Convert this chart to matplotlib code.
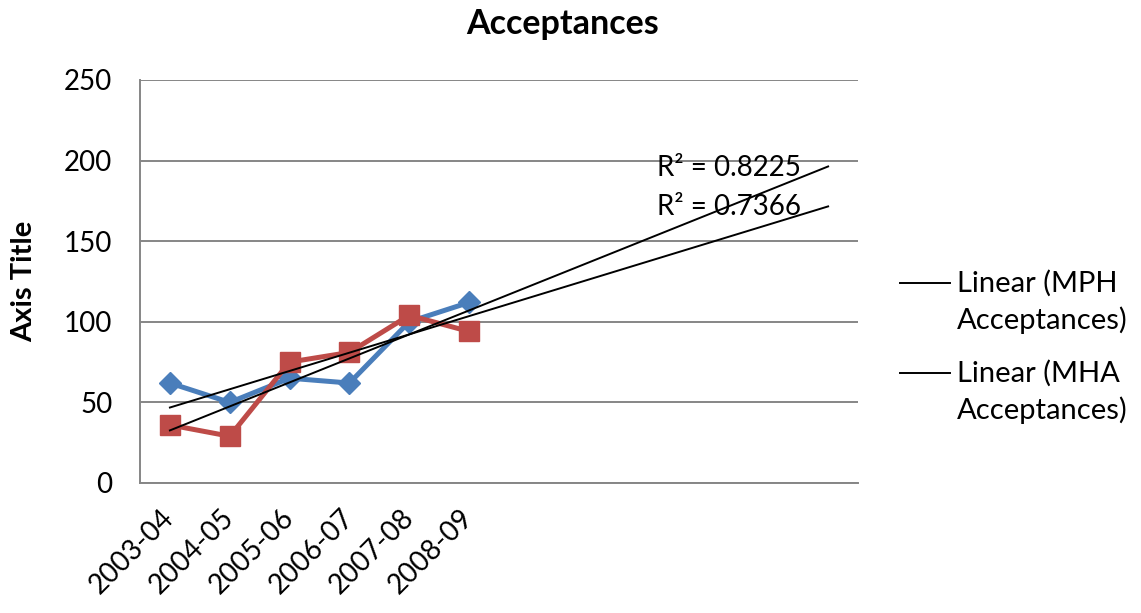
import numpy as np
import matplotlib
matplotlib.use("Agg")
import matplotlib.pyplot as plt
import matplotlib.transforms as mtransforms
from matplotlib.legend_handler import HandlerLine2D

plt.rcParams['font.family'] = ['Lato', 'DejaVu Sans']

# data
years = ['2003-04', '2004-05', '2005-06', '2006-07', '2007-08', '2008-09']
mph = [62, 50, 65, 62, 100, 112]
mha = [36, 29, 75, 81, 104, 94]
n_slots = 12  # category axis runs on past the data (trendline forecast)

blue = '#4A7EBB'
red = '#BE4B48'
grey = '#868686'


class TopLineHandler(HandlerLine2D):
    # Excel puts the legend line level with the first text line
    def create_artists(self, legend, orig_handle, xdescent, ydescent, width, height, fontsize, trans):
        arts = super().create_artists(legend, orig_handle, xdescent, ydescent, width, height, fontsize, trans)
        for a in arts:
            a.set_ydata(np.asarray(a.get_ydata()) + 0.66 * fontsize)
        return arts


fig = plt.figure(figsize=(11.41, 6.13), dpi=100)
ax = fig.add_axes([0.1227, 0.2121, 0.6293, 0.6574])

x = np.arange(len(years))
ax.plot(x, mph, color=blue, lw=3.6, marker='D', ms=11, zorder=3)
ax.plot(x, mha, color=red, lw=3.6, marker='s', ms=14, zorder=3)

xt = np.arange(n_slots)
r2s = []
trend_lines = []
for name, vals in [('MPH', mph), ('MHA', mha)]:
    vals = np.array(vals, dtype=float)
    k, b = np.polyfit(x, vals, 1)
    pred = k * x + b
    r2 = 1 - np.sum((vals - pred) ** 2) / np.sum((vals - vals.mean()) ** 2)
    ln, = ax.plot(xt, k * xt + b, color='black', lw=1.4, zorder=4,
                  label='Linear (%s\nAcceptances)' % name)
    trend_lines.append(ln)
    r2s.append(r2)

ax.text(8.14, 195.5, 'R² = %.4f' % r2s[1], fontsize=20, va='center', ha='left', zorder=5)
ax.text(8.14, 171.3, 'R² = %.4f' % r2s[0], fontsize=20, va='center', ha='left', zorder=5)

ax.set_xlim(-0.5, n_slots - 0.5)
ax.set_ylim(0, 250)
ax.set_yticks(range(0, 251, 50))
ax.set_xticks(x)
ax.set_xticklabels(years, rotation=45, ha='right', va='center', rotation_mode='anchor', fontsize=20)
shift = mtransforms.ScaledTranslation(6 / 100, -2 / 100, fig.dpi_scale_trans)
for lab in ax.get_xticklabels():
    lab.set_transform(lab.get_transform() + shift)
ax.tick_params(axis='x', length=0, pad=22)
ax.tick_params(axis='y', labelsize=20, length=0, pad=20)
ax.grid(axis='y', color=grey, lw=1.4)
ax.set_axisbelow(True)
for s in ['top', 'right']:
    ax.spines[s].set_visible(False)
for s in ['left', 'bottom']:
    ax.spines[s].set_color(grey)
    ax.spines[s].set_linewidth(1.4)

ax.set_ylabel('Axis Title', fontsize=21, fontweight='bold', va='center')
ax.yaxis.set_label_coords(-0.1616, 0.5)
ax.set_title('Acceptances', fontsize=24.5, fontweight='bold', pad=33, x=0.588)

leg = ax.legend(handles=trend_lines, loc='center left', bbox_to_anchor=(1.0585, 0.3375),
                frameon=False, fontsize=21, borderpad=0, borderaxespad=0,
                handlelength=1.71, handletextpad=0.24, labelspacing=0.9,
                handler_map={trend_lines[0]: TopLineHandler(), trend_lines[1]: TopLineHandler()})
for t in leg.get_texts():
    t.set_linespacing(1.42)

fig.savefig('out.png', dpi=100)
